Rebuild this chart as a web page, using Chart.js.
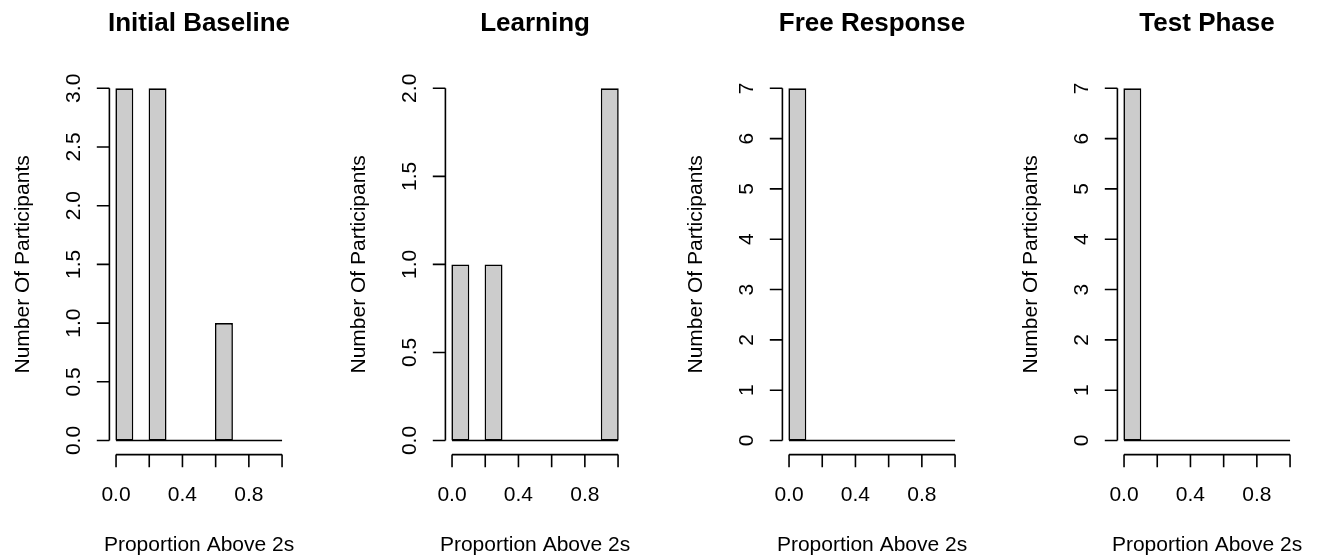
<!DOCTYPE html>
<html>
<head>
<meta charset="utf-8">
<script src="https://cdn.jsdelivr.net/npm/chart.js@4.4.1/dist/chart.umd.min.js"></script>
<style>
  html, body { margin: 0; padding: 0; background: #ffffff; overflow: hidden; }
  #wrap { position: relative; width: 1319px; height: 558px; overflow: hidden; background: #fff; }
  canvas { position: absolute; top: 0; }
</style>
</head>
<body>
<div id="wrap"></div>
<script>
// ---- data ----
const breaks = [0, 0.1, 0.2, 0.3, 0.4, 0.5, 0.6, 0.7, 0.8, 0.9, 1.0];
const initialBaselineCounts = [3, 0, 3, 0, 0, 0, 1, 0, 0, 0];
const learningCounts        = [1, 0, 1, 0, 0, 0, 0, 0, 0, 2];
const freeResponseCounts    = [7, 0, 0, 0, 0, 0, 0, 0, 0, 0];
const testPhaseCounts       = [7, 0, 0, 0, 0, 0, 0, 0, 0, 0];

const panelTitles = ['Initial Baseline', 'Learning', 'Free Response', 'Test Phase'];
const xTitle = 'Proportion Above 2s';
const yTitle = 'Number Of Participants';

const xTicks = [0, 0.2, 0.4, 0.6, 0.8, 1.0];
const xTickLabels = ['0.0', '', '0.4', '', '0.8', ''];

const yTicksBaseline = [0, 0.5, 1, 1.5, 2, 2.5, 3];
const yLabelsBaseline = ['0.0', '0.5', '1.0', '1.5', '2.0', '2.5', '3.0'];
const yTicksLearning = [0, 0.5, 1, 1.5, 2];
const yLabelsLearning = ['0.0', '0.5', '1.0', '1.5', '2.0'];
const yTicksSeven = [0, 1, 2, 3, 4, 5, 6, 7];
const yLabelsSeven = ['0', '1', '2', '3', '4', '5', '6', '7'];

// ---- layout (styling) ----
const FONT = '"Liberation Sans", Arial, Helvetica, sans-serif';
const CANVAS_W = 336, CANVAS_H = 558;
const canvasLefts = [0, 336.3, 672.7, 1008.3];
const plotLeft = 109.4, plotWidth = 179.3, plotTop = 74.2, plotBottom = 454.6;

const panels = [
  { title: panelTitles[0], counts: initialBaselineCounts, yTicks: yTicksBaseline, yLabels: yLabelsBaseline },
  { title: panelTitles[1], counts: learningCounts, yTicks: yTicksLearning, yLabels: yLabelsLearning },
  { title: panelTitles[2], counts: freeResponseCounts, yTicks: yTicksSeven, yLabels: yLabelsSeven },
  { title: panelTitles[3], counts: testPhaseCounts, yTicks: yTicksSeven, yLabels: yLabelsSeven }
];

const rAxesPlugin = {
  id: 'rAxes',
  afterDraw(chart, args, opts) {
    const ctx = chart.ctx;
    const xs = chart.scales.x, ys = chart.scales.y;
    const area = chart.chartArea;
    const p = opts.panel;
    ctx.save();
    ctx.strokeStyle = '#000';
    ctx.fillStyle = '#000';
    ctx.lineWidth = 1.6;
    ctx.lineCap = 'butt';
    const tickLen = 12.6;

    // Y axis
    const y0 = ys.getPixelForValue(p.yTicks[0]);
    const y1 = ys.getPixelForValue(p.yTicks[p.yTicks.length - 1]);
    ctx.beginPath();
    ctx.moveTo(area.left, y0); ctx.lineTo(area.left, y1);
    p.yTicks.forEach(v => {
      const py = ys.getPixelForValue(v);
      ctx.moveTo(area.left, py); ctx.lineTo(area.left - tickLen, py);
    });
    ctx.stroke();
    ctx.font = '21px ' + FONT;
    ctx.textAlign = 'center';
    ctx.textBaseline = 'alphabetic';
    p.yTicks.forEach((v, i) => {
      const py = ys.getPixelForValue(v);
      ctx.save();
      ctx.translate(area.left - 29.3, py);
      ctx.rotate(-Math.PI / 2);
      ctx.fillText(p.yLabels[i], 0, 0);
      ctx.restore();
    });
    // Y title
    ctx.save();
    ctx.translate(area.left - 80.8, (area.top + area.bottom) / 2);
    ctx.rotate(-Math.PI / 2);
    ctx.fillText(yTitle, 0, 0);
    ctx.restore();

    // X axis
    const xa = xs.getPixelForValue(xTicks[0]);
    const xb = xs.getPixelForValue(xTicks[xTicks.length - 1]);
    ctx.beginPath();
    ctx.moveTo(xa, area.bottom); ctx.lineTo(xb, area.bottom);
    xTicks.forEach(v => {
      const px = xs.getPixelForValue(v);
      ctx.moveTo(px, area.bottom); ctx.lineTo(px, area.bottom + tickLen);
    });
    ctx.stroke();
    xTicks.forEach((v, i) => {
      if (!xTickLabels[i]) return;
      ctx.fillText(xTickLabels[i], xs.getPixelForValue(v), area.bottom + 46.4);
    });
    // X title
    ctx.fillText(xTitle, (area.left + area.right) / 2, area.bottom + 96.8);

    // Main title
    ctx.font = 'bold 26px ' + FONT;
    ctx.fillText(p.title, (area.left + area.right) / 2, 30.7);
    ctx.restore();
  }
};

const wrap = document.getElementById('wrap');
panels.forEach((p, idx) => {
  const cv = document.createElement('canvas');
  cv.width = CANVAS_W; cv.height = CANVAS_H;
  cv.style.left = canvasLefts[idx] + 'px';
  cv.style.width = CANVAS_W + 'px'; cv.style.height = CANVAS_H + 'px';
  wrap.appendChild(cv);

  const mids = p.counts.map((c, i) => (breaks[i] + breaks[i + 1]) / 2);
  const barData = p.counts.map((c, i) => ({ x: mids[i], y: c }));
  const baseData = [{ x: breaks[0], y: 0 }, { x: breaks[breaks.length - 1], y: 0 }];
  const yMax = p.yTicks[p.yTicks.length - 1];
  const xMin = breaks[0], xMax = breaks[breaks.length - 1];
  const xPad = (xMax - xMin) * 0.04, yPad = yMax * 0.04;

  new Chart(cv.getContext('2d'), {
    type: 'bar',
    data: {
      datasets: [
        {
          type: 'line', data: baseData, borderColor: '#000', borderWidth: 1.6,
          pointRadius: 0, fill: false, order: 0
        },
        {
          type: 'bar', data: barData, backgroundColor: '#cccccc', borderColor: '#000',
          borderWidth: 1.6, borderSkipped: false, barPercentage: 1.08, categoryPercentage: 1, order: 1
        }
      ]
    },
    options: {
      responsive: false,
      animation: false,
      devicePixelRatio: 1,
      layout: {
        padding: {
          left: plotLeft,
          right: CANVAS_W - plotLeft - plotWidth,
          top: plotTop,
          bottom: CANVAS_H - plotBottom
        }
      },
      plugins: {
        legend: { display: false },
        tooltip: { enabled: false },
        title: { display: false },
        rAxes: { panel: p }
      },
      scales: {
        x: {
          type: 'linear', display: false, offset: false,
          min: xMin - xPad, max: xMax + xPad,
          afterBuildTicks: (s) => { s.ticks = breaks.map(v => ({ value: v })); }
        },
        y: {
          type: 'linear', display: false,
          min: -yPad, max: yMax + yPad
        }
      }
    },
    plugins: [rAxesPlugin]
  });
});
</script>
</body>
</html>
